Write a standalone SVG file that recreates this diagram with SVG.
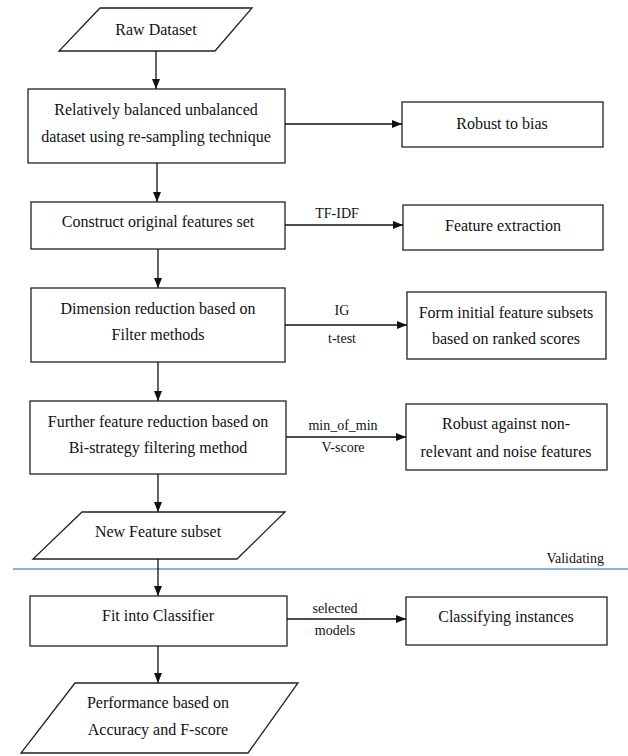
<svg xmlns="http://www.w3.org/2000/svg" width="628" height="756" viewBox="0 0 628 756">
<style>
.shape{fill:#fff;stroke:#222;stroke-width:1.3}
.t{font-family:"Liberation Serif","Times New Roman",serif;font-size:16px;fill:#111;text-anchor:middle}
.l{font-family:"Liberation Serif","Times New Roman",serif;font-size:14px;fill:#111;text-anchor:middle}
.c{stroke:#111;stroke-width:1.3;fill:none;marker-end:url(#ah)}
</style>
<defs>
<marker id="ah" markerUnits="userSpaceOnUse" markerWidth="10" markerHeight="8" refX="10" refY="4" orient="auto">
<path d="M0,0 L10,4 L0,8 z" fill="#111"/>
</marker>
</defs>
<rect width="628" height="756" fill="#fff"/>
<line x1="13" y1="569" x2="628" y2="569" stroke="#5b9bd5" stroke-width="1.5"/>
<text class="l" x="604" y="563" style="text-anchor:end">Validating</text>

<g id="raw">
<polygon class="shape" points="100,8 252,8 215,51 59,51"/>
<text class="t" x="156" y="35">Raw Dataset</text>
</g>
<g id="balance">
<rect class="shape" x="28" y="89" width="257" height="74"/>
<text class="t" x="156" y="115">Relatively balanced unbalanced</text>
<text class="t" x="156" y="142">dataset using re-sampling technique</text>
</g>
<g id="bias">
<rect class="shape" x="402" y="102" width="201" height="45"/>
<text class="t" x="502" y="129">Robust to bias</text>
</g>
<g id="construct">
<rect class="shape" x="31" y="202" width="254" height="47"/>
<text class="t" x="158" y="227">Construct original features set</text>
</g>
<g id="extraction">
<rect class="shape" x="403" y="205" width="200" height="45"/>
<text class="t" x="503" y="231">Feature extraction</text>
</g>
<g id="dimension">
<rect class="shape" x="31" y="288" width="254" height="74"/>
<text class="t" x="158" y="314">Dimension reduction based on</text>
<text class="t" x="158" y="340">Filter methods</text>
</g>
<g id="initial">
<rect class="shape" x="407" y="292" width="199" height="67"/>
<text class="t" x="506" y="318">Form initial feature subsets</text>
<text class="t" x="506" y="344">based on ranked scores</text>
</g>
<g id="further">
<rect class="shape" x="30" y="401" width="256" height="73"/>
<text class="t" x="158" y="427">Further feature reduction based on</text>
<text class="t" x="158" y="453">Bi-strategy filtering method</text>
</g>
<g id="noise">
<rect class="shape" x="406" y="404" width="201" height="66"/>
<text class="t" x="506" y="429">Robust against non-</text>
<text class="t" x="506" y="457">relevant and noise features</text>
</g>
<g id="newsubset">
<polygon class="shape" points="82,512 285,512 237,559 33,559"/>
<text class="t" x="158" y="537">New Feature subset</text>
</g>
<g id="fit">
<rect class="shape" x="30" y="596" width="257" height="50"/>
<text class="t" x="158" y="621">Fit into Classifier</text>
</g>
<g id="classify">
<rect class="shape" x="406" y="597" width="201" height="48"/>
<text class="t" x="506" y="622">Classifying instances</text>
</g>
<g id="performance">
<polygon class="shape" points="75,683 298,683 248,753 21,753"/>
<text class="t" x="158" y="708">Performance based on</text>
<text class="t" x="158" y="735">Accuracy and F-score</text>
</g>

<g id="connectors">
<line class="c" x1="156" y1="51" x2="156" y2="89"/>
<line class="c" x1="157" y1="163" x2="157" y2="202"/>
<line class="c" x1="158" y1="249" x2="158" y2="288"/>
<line class="c" x1="158" y1="362" x2="158" y2="401"/>
<line class="c" x1="158" y1="474" x2="158" y2="512"/>
<line class="c" x1="158" y1="559" x2="158" y2="596"/>
<line class="c" x1="158" y1="646" x2="158" y2="683"/>
<line class="c" x1="285" y1="124" x2="402" y2="124"/>
<line class="c" x1="285" y1="225" x2="403" y2="225"/>
<line class="c" x1="285" y1="325" x2="407" y2="325"/>
<line class="c" x1="286" y1="437" x2="406" y2="437"/>
<line class="c" x1="287" y1="619" x2="406" y2="619"/>
<text class="l" x="337" y="218">TF-IDF</text>
<text class="l" x="342" y="315">IG</text>
<text class="l" x="342" y="343">t-test</text>
<text class="l" x="343" y="430">min_of_min</text>
<text class="l" x="343" y="452">V-score</text>
<text class="l" x="335" y="613">selected</text>
<text class="l" x="335" y="635">models</text>
</g>
</svg>
